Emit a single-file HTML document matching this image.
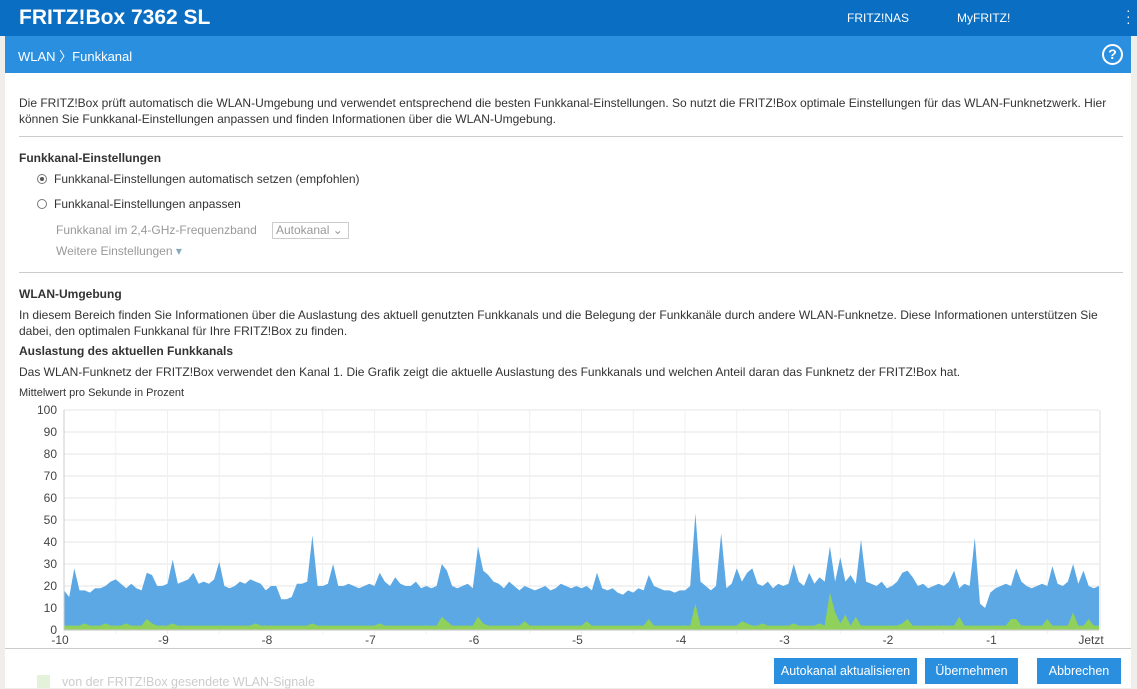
<!DOCTYPE html>
<html><head><meta charset="utf-8">
<style>
*{box-sizing:border-box}
body{margin:0;width:1137px;height:688px;overflow:hidden;background:#f0eeea;font-family:"Liberation Sans",sans-serif;color:#333;position:relative}
#hdr{position:absolute;left:0;top:0;width:1137px;height:36px;background:#0a6ec2;color:#fff}
#bc{position:absolute;left:5px;top:36px;width:1126px;height:37px;background:#2b8fe0;color:#fff}
#main{position:absolute;left:5px;top:73px;width:1126px;height:615px;background:#fff}
.t{position:absolute;font-size:12px;white-space:nowrap}
.b{font-weight:bold}
.g{color:#999}
.btn{position:absolute;top:658px;height:26px;background:#2b8fe0;color:#fff;font-size:12.5px;line-height:26px;text-align:center}
</style></head><body>
<div id="hdr">
<div class="t b" style="left:19px;top:6px;font-size:21px">FRITZ!Box 7362 SL</div>
<div class="t" style="left:847px;top:11px">FRITZ!NAS</div>
<div class="t" style="left:957px;top:11px">MyFRITZ!</div>
<div class="t" style="left:1126px;top:7px;font-size:14px;line-height:6px">·<br>·<br>·</div>
</div>
<div id="bc">
<div class="t" style="left:13px;top:10px;font-size:13px">WLAN 〉Funkkanal</div>
<div style="position:absolute;left:1097px;top:8px;width:21px;height:21px;border:2px solid #fff;border-radius:50%;text-align:center;font-weight:bold;font-size:14px;line-height:17px">?</div>
</div>
<div id="main"></div>
<div class="t" style="left:19px;top:95px;line-height:16px">Die FRITZ!Box prüft automatisch die WLAN-Umgebung und verwendet entsprechend die besten Funkkanal-Einstellungen. So nutzt die FRITZ!Box optimale Einstellungen für das WLAN-Funknetzwerk. Hier<br>können Sie Funkkanal-Einstellungen anpassen und finden Informationen über die WLAN-Umgebung.</div>
<div style="position:absolute;left:19px;top:136px;width:1104px;height:1px;background:#ccc"></div>
<div class="t b" style="left:19px;top:151px">Funkkanal-Einstellungen</div>
<div style="position:absolute;left:37px;top:174px;width:10px;height:10px;border:1px solid #777;border-radius:50%"><div style="margin:2px;width:4px;height:4px;background:#555;border-radius:50%"></div></div>
<div class="t" style="left:54px;top:172px">Funkkanal-Einstellungen automatisch setzen (empfohlen)</div>
<div style="position:absolute;left:37px;top:199px;width:10px;height:10px;border:1px solid #777;border-radius:50%"></div>
<div class="t" style="left:54px;top:197px">Funkkanal-Einstellungen anpassen</div>
<div class="t g" style="left:56px;top:223px">Funkkanal im 2,4-GHz-Frequenzband</div>
<div class="t g" style="left:272px;top:222px;width:77px;height:17px;border:1px solid #ccc;padding-left:3px;line-height:15px">Autokanal ⌄</div>
<div class="t g" style="left:56px;top:244px">Weitere Einstellungen <span style="color:#8ab">▾</span></div>
<div style="position:absolute;left:19px;top:272px;width:1104px;height:1px;background:#ccc"></div>
<div class="t b" style="left:19px;top:287px">WLAN-Umgebung</div>
<div class="t" style="left:19px;top:307px;line-height:16px">In diesem Bereich finden Sie Informationen über die Auslastung des aktuell genutzten Funkkanals und die Belegung der Funkkanäle durch andere WLAN-Funknetze. Diese Informationen unterstützen Sie<br>dabei, den optimalen Funkkanal für Ihre FRITZ!Box zu finden.</div>
<div class="t b" style="left:19px;top:344px">Auslastung des aktuellen Funkkanals</div>
<div class="t" style="left:19px;top:365px">Das WLAN-Funknetz der FRITZ!Box verwendet den Kanal 1. Die Grafik zeigt die aktuelle Auslastung des Funkkanals und welchen Anteil daran das Funknetz der FRITZ!Box hat.</div>
<div class="t" style="left:19px;top:387px;font-size:11px">Mittelwert pro Sekunde in Prozent</div>
<svg id="chart" style="position:absolute;left:0;top:0" width="1137" height="688"></svg>
<div style="position:absolute;left:5px;top:648px;width:1126px;height:1px;background:#ccc"></div>
<div style="position:absolute;left:37px;top:675px;width:13px;height:13px;background:#e4f2dc"></div>
<div class="t" style="left:62px;top:675px;color:#ccc;font-size:12.5px">von der FRITZ!Box gesendete WLAN-Signale</div>
<div class="btn" style="left:774px;width:143px">Autokanal aktualisieren</div>
<div class="btn" style="left:925px;width:93px">Übernehmen</div>
<div class="btn" style="left:1037px;width:84px">Abbrechen</div>
<script>
const yTicks=[0,10,20,30,40,50,60,70,80,90,100];
const xTicks=[-10,-9,-8,-7,-6,-5,-4,-3,-2,-1,0];
const xTickLabels=["-10","-9","-8","-7","-6","-5","-4","-3","-2","-1","Jetzt"];
const totalLoad=[18,15,28,18,18,17,19,19,20,22,23,21,19,21,19,18,26,25,20,20,
21,32,21,22,23,26,21,22,21,23,31,20,19,20,22,21,23,22,21,18,
20,20,14,14,15,21,21,22,43,20,20,21,30,20,20,21,20,19,20,21,
20,26,22,20,24,21,20,20,22,19,20,19,20,30,27,20,19,20,21,19,
38,27,25,22,21,19,22,20,18,20,19,18,19,20,18,19,21,20,19,20,
19,20,18,26,19,18,19,17,16,18,17,19,18,25,20,19,18,18,17,18,
18,20,53,22,20,18,20,44,19,21,28,22,26,28,21,20,22,19,21,20,
21,30,22,20,26,21,24,22,38,22,33,22,25,21,41,22,21,20,22,19,
20,22,26,27,24,20,21,19,20,21,20,22,27,19,21,20,42,12,10,17,
19,20,21,20,28,22,20,19,20,21,20,29,21,20,22,30,21,27,20,19,20];
const boxLoad=[2,2,2,2,3,2,2,2,3,2,2,2,3,2,2,2,5,3,2,2,
2,3,2,2,2,2,2,2,2,2,2,2,2,2,2,2,2,3,2,2,
2,2,2,2,2,2,2,2,3,2,2,2,2,2,2,2,2,2,2,2,
2,3,2,2,2,2,2,2,2,2,2,2,2,6,4,2,2,2,2,2,
6,3,2,2,2,2,2,2,2,4,2,2,2,2,2,2,2,2,2,2,
2,4,2,2,2,2,2,2,2,2,2,2,2,5,2,2,2,2,2,2,
2,2,12,2,2,2,2,2,2,2,2,4,3,2,2,3,2,2,2,2,
2,3,2,2,2,2,3,2,17,8,3,7,2,6,2,2,2,2,2,2,
2,2,3,5,2,2,2,2,2,2,2,2,2,6,2,2,2,2,2,2,
2,2,2,5,5,2,2,2,2,2,5,2,2,2,2,8,2,2,5,2,2];
const svg=document.getElementById('chart');
const NS='http://www.w3.org/2000/svg';
const X0=64,X1=1099,Y0=630,Y1=410;
function sx(t){return X0+(t+10)/10*(X1-X0);}
function sy(v){return Y0-v/100*(Y0-Y1);}
function mk(tag,a){const e=document.createElementNS(NS,tag);for(const k in a)e.setAttribute(k,a[k]);svg.appendChild(e);return e;}
yTicks.forEach(v=>{
 const l=mk('line',{x1:X0,x2:X1,y1:sy(v),y2:sy(v),stroke:'#f2f2f2','stroke-width':2});
 
 
 const t=mk('text',{x:X0-7,y:sy(v)+4,'text-anchor':'end','font-size':12,fill:'#444','font-family':'Liberation Sans, sans-serif'});
 t.textContent=v;
 
 
});
for(let k=0;k<20;k++){const t=-10+k*0.5;
 const l=mk('line',{x1:sx(t),x2:sx(t),y1:Y1,y2:Y0+4,stroke:'#f0f0f0'});
 
 
}
function area(arr,fill,name){
 let d='M'+sx(-10)+','+sy(0);
 arr.forEach((v,i)=>{d+=' L'+sx(-10+i*10/(arr.length-1)).toFixed(1)+','+sy(v).toFixed(1);});
 d+=' L'+sx(0)+','+sy(0)+'Z';
 const p=mk('path',{d:d,fill:fill});
 
 
}
area(totalLoad,'#5ca8e4','total-load-area');
area(boxLoad,'#8fd15a','fritzbox-load-area');
const ax=mk('line',{x1:X0,x2:X0,y1:Y1,y2:Y0,stroke:'#ccc'});


const ax2=mk('line',{x1:X1+1,x2:X1+1,y1:Y1,y2:Y0,stroke:'#ddd'});


const xa=mk('line',{x1:X0,x2:X1,y1:Y0,y2:Y0,stroke:'#ccc'});


xTicks.forEach((v,i)=>{
 const t=mk('text',{x:i==10?sx(v)-8:sx(v)-4,y:644,'text-anchor':'middle','font-size':12,fill:'#444','font-family':'Liberation Sans, sans-serif'});
 t.textContent=xTickLabels[i];
 
 
});
</script>
</body></html>
